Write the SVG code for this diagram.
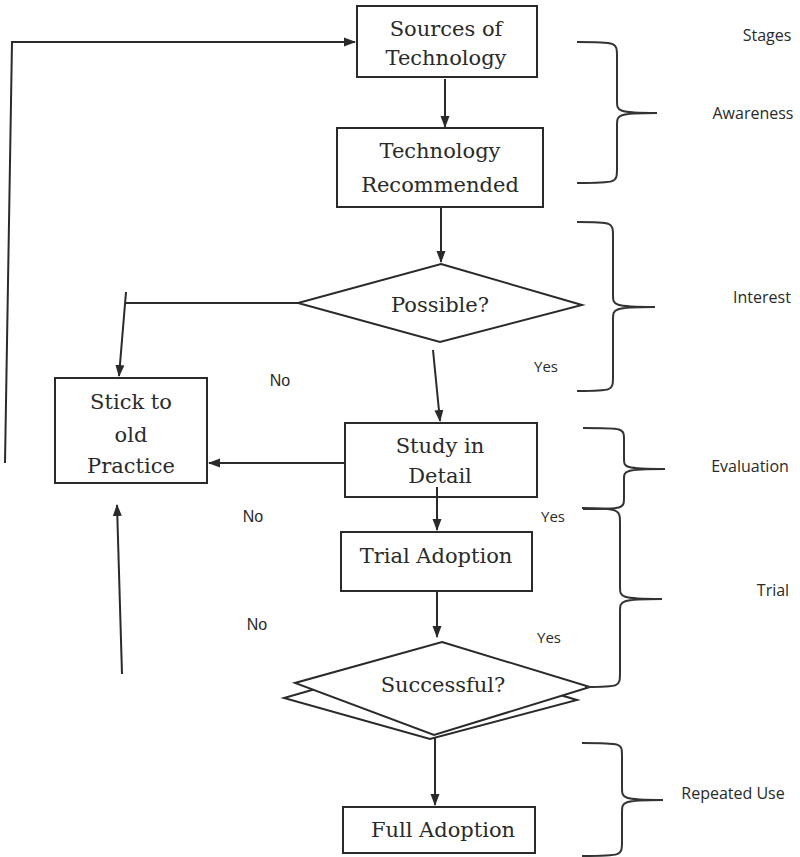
<svg xmlns="http://www.w3.org/2000/svg" width="800" height="857" viewBox="0 0 800 857">
<style>
.box{fill:#fff;stroke:#2a2a2a;stroke-width:2}
.t{font-family:"DejaVu Serif",serif;font-size:21px;fill:#2a2a2a;text-anchor:middle}
.ln{fill:none;stroke:#2a2a2a;stroke-width:2}
.br{fill:none;stroke:#333;stroke-width:2}
.lab{font-family:"Open Sans","Liberation Sans",sans-serif;font-size:16px;fill:#2a2a2a;text-anchor:middle}
.yes{font-family:"Open Sans","Liberation Sans",sans-serif;font-size:15px;fill:#2a2a2a;text-anchor:middle}
.no{font-family:"Liberation Sans",Arial,sans-serif;font-size:16px;fill:#2a2a2a;text-anchor:middle}
</style>
<defs>
<marker id="ah" markerWidth="12" markerHeight="10" refX="11" refY="5" orient="auto" markerUnits="userSpaceOnUse">
<path d="M0,0.5 L12,5 L0,9.5 Z" fill="#2a2a2a"/>
</marker>
</defs>
<rect width="800" height="857" fill="#fff"/>
<g id="connectors">
<polyline class="ln" points="5,463 12,42 355,42" marker-end="url(#ah)"/>
<line class="ln" x1="445" y1="79" x2="445" y2="127" marker-end="url(#ah)"/>
<line class="ln" x1="441" y1="208" x2="441" y2="262" marker-end="url(#ah)"/>
<polyline class="ln" points="298,303 125,303"/>
<line class="ln" x1="126" y1="292" x2="119" y2="376" marker-end="url(#ah)"/>
<line class="ln" x1="433" y1="350" x2="440" y2="421" marker-end="url(#ah)"/>
<line class="ln" x1="345" y1="463" x2="209" y2="463" marker-end="url(#ah)"/>
<line class="ln" x1="122" y1="674" x2="117" y2="505" marker-end="url(#ah)"/>
<line class="ln" x1="437" y1="592" x2="437" y2="637" marker-end="url(#ah)"/>
<line class="ln" x1="435" y1="738" x2="435" y2="805" marker-end="url(#ah)"/>
</g>
<g id="sources">
<rect class="box" x="357" y="6" width="180" height="71"/>
<text class="t" x="446" y="36">Sources of</text>
<text class="t" x="446" y="65">Technology</text>
</g>
<g id="recommended">
<rect class="box" x="337" y="128" width="206" height="79"/>
<text class="t" x="440" y="158">Technology</text>
<text class="t" x="440" y="192">Recommended</text>
</g>
<g id="possible">
<polygon class="box" points="441,264 582,305 440,342 298,303"/>
<text class="t" x="440" y="312">Possible?</text>
</g>
<g id="stick">
<rect class="box" x="55" y="378" width="152" height="105"/>
<text class="t" x="131" y="409">Stick to</text>
<text class="t" x="131" y="442">old</text>
<text class="t" x="131" y="473">Practice</text>
</g>
<g id="study">
<rect class="box" x="345" y="423" width="192" height="74"/>
<text class="t" x="440" y="453">Study in</text>
<text class="t" x="440" y="483">Detail</text>
</g>
<g id="study-trial-connector">
<line class="ln" x1="437" y1="487" x2="437" y2="530" marker-end="url(#ah)"/>
</g>
<g id="trial">
<rect class="box" x="341" y="532" width="191" height="59"/>
<text class="t" x="436" y="563">Trial Adoption</text>
</g>
<g id="successful">
<polygon class="box" points="430,656 577,700 430,739 284,698"/>
<polygon class="box" points="442,642 590,687 434,735 295,683"/>
<text class="t" x="443" y="692">Successful?</text>
</g>
<g id="full">
<rect class="box" x="343" y="807" width="192" height="46"/>
<text class="t" x="443" y="837">Full Adoption</text>
</g>
<g id="braces">
<path class="br" d="M577,42 C617,42 617,42 617,57 L617,101 C617,111 617,113 657,113 C617,113 617,115 617,125 L617,168 C617,183 617,183 577,183"/>
<path class="br" d="M577,222 C613,222 613,222 613,237 L613,295 C613,305 613,307 655,307 C613,307 613,309 613,319 L613,376 C613,391 613,391 577,391"/>
<path class="br" d="M583,428 C624,428 624,428 624,440 L624,459 C624,467 624,469 665,469 C624,469 624,471 624,479 L624,497 C624,509 624,509 583,509"/>
<path class="br" d="M582,508 C620,508 620,510 620,523 L620,587 C620,597 620,599 662,599 C620,599 620,601 620,611 L620,672 C620,687 620,687 585,687"/>
<path class="br" d="M582,743 C622,743 622,743 622,756 L622,788 C622,798 622,800 663,800 C622,800 622,802 622,812 L622,841 C622,856 622,856 582,856"/>
</g>
<g id="labels">
<text class="lab" x="767" y="41">Stages</text>
<text class="lab" x="753" y="119">Awareness</text>
<text class="lab" x="762" y="303">Interest</text>
<text class="lab" x="750" y="472">Evaluation</text>
<text class="lab" x="773" y="596">Trial</text>
<text class="lab" x="733" y="799">Repeated Use</text>
<text class="yes" x="546" y="372">Yes</text>
<text class="yes" x="553" y="522">Yes</text>
<text class="yes" x="549" y="643">Yes</text>
<text class="no" x="280" y="386">No</text>
<text class="no" x="253" y="522">No</text>
<text class="no" x="257" y="630">No</text>
</g>
</svg>
